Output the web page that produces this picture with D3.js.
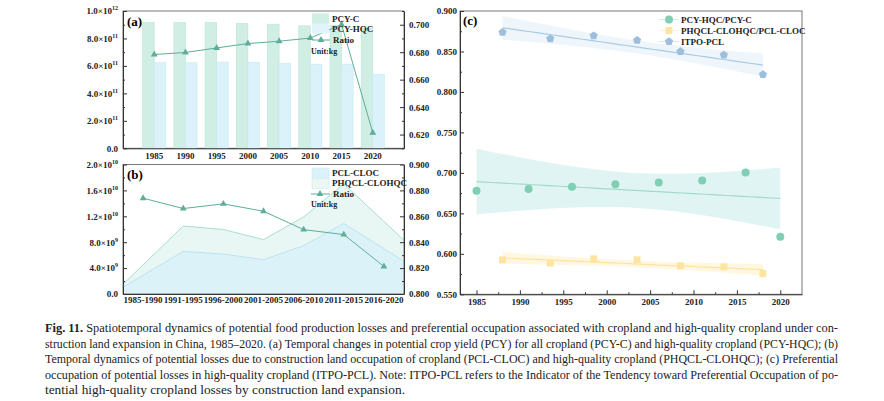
<!DOCTYPE html>
<html>
<head>
<meta charset="utf-8">
<script src="https://cdn.jsdelivr.net/npm/d3@7"></script>
<style>
  body { margin: 0; background: #fff; }
  svg text { font-family: "Liberation Serif", "Times New Roman", serif; }
</style>
</head>
<body>
<svg id="fig" width="884" height="401"></svg>
<script>
// (a) potential crop yield, kg
var yearsA = ["1985", "1990", "1995", "2000", "2005", "2010", "2015", "2020"];
var pcyC = [9.16e11, 9.16e11, 9.16e11, 9.09e11, 9.04e11, 8.92e11, 8.95e11, 8.73e11];
var pcyHqc = [6.23e11, 6.23e11, 6.28e11, 6.27e11, 6.2e11, 6.13e11, 6.13e11, 5.4e11];
var ratioA = [0.6783, 0.6798, 0.6831, 0.6863, 0.688, 0.6903, 0.7002, 0.6213];

// (b) potential losses by period, kg
var periodsB = ["1985-1990", "1991-1995", "1996-2000", "2001-2005", "2006-2010", "2011-2015", "2016-2020"];
var pclCloc = [2.9e9, 6.58e9, 6.17e9, 5.29e9, 7.47e9, 10.9e9, 7.0e9];
var phqclClohqc = [4.5e9, 10.5e9, 9.96e9, 8.4e9, 11.9e9, 17.0e9, 11.2e9];
var ratioB = [0.874, 0.866, 0.8696, 0.8639, 0.8497, 0.8459, 0.8213];

// (c) ratios over time
var yearsHqc = [1985, 1991, 1996, 2001, 2006, 2011, 2016, 2020];
var hqcRatio = [0.678, 0.68, 0.683, 0.686, 0.688, 0.6905, 0.7004, 0.621];
var yearsPcl = [1988, 1993.5, 1998.5, 2003.5, 2008.5, 2013.5, 2018];
var pclRatio = [0.5926, 0.5885, 0.5938, 0.5926, 0.5852, 0.584, 0.5757];
var itpoPcl = [0.8737, 0.8658, 0.8695, 0.8638, 0.8498, 0.8457, 0.8214];

var caption = [
  "Spatiotemporal dynamics of potential food production losses and preferential occupation associated with cropland and high-quality cropland under con-",
  "struction land expansion in China, 1985\u20132020. (a) Temporal changes in potential crop yield (PCY) for all cropland (PCY-C) and high-quality cropland (PCY-HQC); (b)",
  "Temporal dynamics of potential losses due to construction land occupation of cropland (PCL-CLOC) and high-quality cropland (PHQCL-CLOHQC); (c) Preferential",
  "occupation of potential losses in high-quality cropland (ITPO-PCL). Note: ITPO-PCL refers to the Indicator of the Tendency toward Preferential Occupation of po-",
  "tential high-quality cropland losses by construction land expansion."
];

var teal = "#5eae9a";
var svg = d3.select("#fig");

// ---------- helpers ----------
function styleAxis(g) {
  g.attr("font-family", "Liberation Serif").attr("font-size", 9).attr("font-weight", "bold");
  g.select(".domain").attr("stroke", "#333");
  g.selectAll(".tick line").attr("stroke", "#333");
  g.selectAll(".tick text").attr("fill", "#222");
}

function sciLabels(g) {
  g.selectAll(".tick text").each(function (d) {
    var t = d3.select(this).text("");
    if (d === 0) { t.text("0.0"); return; }
    var e = Math.floor(Math.log10(d) + 1e-9);
    t.append("tspan").text((d / Math.pow(10, e)).toFixed(1) + "\u00d710");
    t.append("tspan").attr("dy", -4).attr("font-size", 6).text(e);
  });
}

function minorTicks(axisFn, scale, values, x, y) {
  var g = svg.append("g").attr("transform", "translate(" + x + "," + y + ")")
    .call(axisFn(scale).tickValues(values).tickSizeInner(-2).tickSizeOuter(0).tickFormat(""));
  g.select(".domain").remove();
  g.selectAll(".tick line").attr("stroke", "#333");
}

function frame(x0, y0, x1, y1) {
  svg.append("rect").attr("x", x0).attr("y", y0).attr("width", x1 - x0).attr("height", y1 - y0)
    .attr("fill", "none").attr("stroke", "#777").attr("stroke-width", 1);
}

function legendText(x, y, s) {
  svg.append("text").attr("x", x).attr("y", y).attr("dy", "0.35em")
    .attr("font-size", 9).attr("font-weight", "bold").attr("fill", "#222").text(s);
}

function fit(xs, ys) {
  var n = xs.length, mx = d3.mean(xs), my = d3.mean(ys);
  var sxx = d3.sum(xs, function (x) { return (x - mx) * (x - mx); });
  var sxy = d3.sum(xs, function (x, i) { return (x - mx) * (ys[i] - my); });
  var b = sxy / sxx, a = my - b * mx;
  var sse = d3.sum(xs, function (x, i) { var r = ys[i] - a - b * x; return r * r; });
  var s = Math.sqrt(sse / (n - 2));
  var t = { 5: 2.571, 6: 2.447 }[n - 2];
  var pts = d3.range(0, 41).map(function (k) {
    var x = xs[0] + (xs[n - 1] - xs[0]) * k / 40;
    var yh = a + b * x;
    var h = t * s * Math.sqrt(1 / n + (x - mx) * (x - mx) / sxx);
    return { x: x, y: yh, lo: yh - h, hi: yh + h };
  });
  return pts;
}

var symbolPentagon = {
  draw: function (ctx, size) {
    var r = Math.sqrt(size / 2.378);
    for (var i = 0; i < 5; i++) {
      var ang = -Math.PI / 2 + i * 2 * Math.PI / 5;
      if (i) ctx.lineTo(r * Math.cos(ang), r * Math.sin(ang));
      else ctx.moveTo(r * Math.cos(ang), r * Math.sin(ang));
    }
    ctx.closePath();
  }
};
var tri = d3.symbol(d3.symbolTriangle).size(20);

// ---------- panel (a) ----------
var aL = 123, aR = 404, aT = 11, aB = 148.3;
var xA = d3.scaleBand().domain(yearsA).range([aL, aR]).paddingInner(0).paddingOuter(0.5);
var yA = d3.scaleLinear().domain([0, 1e12]).range([aB, aT]);
var yA2 = d3.scaleLinear().domain([0.61, 0.71]).range([aB, aT]);
var bw = xA.bandwidth() * 0.37;

frame(aL, aT, aR, aB);

svg.append("g").selectAll("rect").data(pcyC).enter().append("rect")
  .attr("x", function (d, i) { return xA(yearsA[i]) + xA.bandwidth() / 2 - bw; })
  .attr("y", function (d) { return yA(d); })
  .attr("width", bw).attr("height", function (d) { return aB - yA(d); })
  .attr("fill", "#d0eee3").attr("stroke", "#bae5d6").attr("stroke-width", 0.6);

svg.append("g").selectAll("rect").data(pcyHqc).enter().append("rect")
  .attr("x", function (d, i) { return xA(yearsA[i]) + xA.bandwidth() / 2; })
  .attr("y", function (d) { return yA(d); })
  .attr("width", bw).attr("height", function (d) { return aB - yA(d); })
  .attr("fill", "#dcf2fb").attr("stroke", "#c6e8f5").attr("stroke-width", 0.6);

var cxA = function (d, i) { return xA(yearsA[i]) + xA.bandwidth() / 2; };
svg.append("path").datum(ratioA)
  .attr("d", d3.line().x(cxA).y(function (d) { return yA2(d); }))
  .attr("fill", "none").attr("stroke", teal).attr("stroke-width", 1);
svg.append("g").selectAll("path").data(ratioA).enter().append("path")
  .attr("d", tri)
  .attr("transform", function (d, i) { return "translate(" + cxA(d, i) + "," + yA2(d) + ")"; })
  .attr("fill", teal);

var gAx = svg.append("g").attr("transform", "translate(0," + aB + ")")
  .call(d3.axisBottom(xA).tickSize(0).tickPadding(4));
styleAxis(gAx);
var gAy = svg.append("g").attr("transform", "translate(" + aL + ",0)")
  .call(d3.axisLeft(yA).tickValues(d3.range(0, 1.01e12, 2e11)).tickSizeInner(-4).tickSizeOuter(0).tickPadding(5));
styleAxis(gAy); sciLabels(gAy);
minorTicks(d3.axisLeft, yA, d3.range(1e11, 1e12, 2e11), aL, 0);
var gAy2 = svg.append("g").attr("transform", "translate(" + aR + ",0)")
  .call(d3.axisRight(yA2).tickValues([0.62, 0.64, 0.66, 0.68, 0.7]).tickSizeInner(-4).tickSizeOuter(0).tickPadding(5).tickFormat(d3.format(".3f")));
styleAxis(gAy2);
minorTicks(d3.axisRight, yA2, [0.61, 0.63, 0.65, 0.67, 0.69, 0.71], aR, 0);

svg.append("text").attr("x", 127).attr("y", 26).attr("font-size", 13).attr("font-weight", "bold").text("(a)");

svg.append("rect").attr("x", 312).attr("y", 13.3).attr("width", 17).attr("height", 10.5).attr("fill", "#d0eee3");
svg.append("rect").attr("x", 312).attr("y", 24).attr("width", 17).attr("height", 9.5).attr("fill", "#e2f4fb");
svg.append("line").attr("x1", 312).attr("x2", 330).attr("y1", 40).attr("y2", 40).attr("stroke", teal);
svg.append("path").attr("d", tri).attr("transform", "translate(321,40)").attr("fill", teal);
legendText(332, 18.5, "PCY-C");
legendText(332, 29, "PCY-HQC");
legendText(333, 40, "Ratio");
svg.append("text").attr("x", 311).attr("y", 51).attr("dy", "0.35em").attr("font-size", 8)
  .attr("font-weight", "bold").attr("fill", "#222").text("Unit:kg");

// ---------- panel (b) ----------
var bL = 123, bR = 404, bT = 164.5, bB = 294;
var xB = d3.scaleBand().domain(periodsB).range([bL, bR]);
var xBi = d3.scaleLinear().domain([-0.5, periodsB.length - 0.5]).range([bL, bR]);
var yB = d3.scaleLinear().domain([0, 2e10]).range([bB, bT]);
var yB2 = d3.scaleLinear().domain([0.8, 0.9]).range([bB, bT]);

function extendEnds(vals) {
  var n = vals.length;
  var pts = vals.map(function (v, i) { return { i: i, v: v }; });
  pts.unshift({ i: -0.5, v: vals[0] - (vals[1] - vals[0]) / 2 });
  pts.push({ i: n - 0.5, v: vals[n - 1] + (vals[n - 1] - vals[n - 2]) / 2 });
  return pts;
}
var areaB = d3.area().x(function (d) { return xBi(d.i); }).y0(bB).y1(function (d) { return yB(d.v); });
var lineB = d3.line().x(function (d) { return xBi(d.i); }).y(function (d) { return yB(d.v); });

svg.append("path").datum(extendEnds(phqclClohqc)).attr("d", areaB).attr("fill", "#e8f6f4");
svg.append("path").datum(extendEnds(phqclClohqc)).attr("d", lineB).attr("fill", "none").attr("stroke", "#a9ded2").attr("stroke-width", 1);
svg.append("path").datum(extendEnds(pclCloc)).attr("d", areaB).attr("fill", "#dcf2f9");
svg.append("path").datum(extendEnds(pclCloc)).attr("d", lineB).attr("fill", "none").attr("stroke", "#bce4f1").attr("stroke-width", 1);

frame(bL, bT, bR, bB);

svg.append("path").datum(ratioB)
  .attr("d", d3.line().x(function (d, i) { return xBi(i); }).y(function (d) { return yB2(d); }))
  .attr("fill", "none").attr("stroke", teal).attr("stroke-width", 1);
svg.append("g").selectAll("path").data(ratioB).enter().append("path")
  .attr("d", tri)
  .attr("transform", function (d, i) { return "translate(" + xBi(i) + "," + yB2(d) + ")"; })
  .attr("fill", teal);

var gBx = svg.append("g").attr("transform", "translate(0," + bB + ")")
  .call(d3.axisBottom(xB).tickSize(0).tickPadding(3));
styleAxis(gBx);
var gBy = svg.append("g").attr("transform", "translate(" + bL + ",0)")
  .call(d3.axisLeft(yB).tickValues(d3.range(0, 2.01e10, 4e9)).tickSizeInner(-4).tickSizeOuter(0).tickPadding(5));
styleAxis(gBy); sciLabels(gBy);
minorTicks(d3.axisLeft, yB, d3.range(2e9, 2e10, 4e9), bL, 0);
var gBy2 = svg.append("g").attr("transform", "translate(" + bR + ",0)")
  .call(d3.axisRight(yB2).tickValues([0.8, 0.82, 0.84, 0.86, 0.88, 0.9]).tickSizeInner(-4).tickSizeOuter(0).tickPadding(5).tickFormat(d3.format(".3f")));
styleAxis(gBy2);
minorTicks(d3.axisRight, yB2, [0.81, 0.83, 0.85, 0.87, 0.89], bR, 0);

svg.append("text").attr("x", 127).attr("y", 179).attr("font-size", 13).attr("font-weight", "bold").text("(b)");

svg.append("rect").attr("x", 312).attr("y", 168).attr("width", 17).attr("height", 10).attr("fill", "#dcf2fa").attr("stroke", "#cbeaf5").attr("stroke-width", 0.6);
svg.append("rect").attr("x", 312).attr("y", 178.5).attr("width", 17).attr("height", 10).attr("fill", "#eaf7f5").attr("stroke", "#cdece5").attr("stroke-width", 0.6);
svg.append("line").attr("x1", 311).attr("x2", 330).attr("y1", 194).attr("y2", 194).attr("stroke", teal);
svg.append("path").attr("d", tri).attr("transform", "translate(320,194)").attr("fill", teal);
legendText(332, 172.5, "PCL-CLOC");
legendText(332, 183.3, "PHQCL-CLOHQC");
legendText(333, 194, "Ratio");
svg.append("text").attr("x", 311).attr("y", 204.5).attr("dy", "0.35em").attr("font-size", 8)
  .attr("font-weight", "bold").attr("fill", "#222").text("Unit:kg");

// ---------- panel (c) ----------
var cL = 460, cR = 802, cT = 11, cB = 294.3;
var xC = d3.scaleLinear().domain([1983.1, 2022.5]).range([cL, cR]);
var yC = d3.scaleLinear().domain([0.55, 0.9]).range([cB, cT]);

var series = [
  { xs: yearsHqc, ys: hqcRatio, name: "PCY-HQC/PCY-C", fill: "#80cfb4", line: "#a3dacb", band: "#e0f5f3", sym: d3.symbolCircle, size: 50 },
  { xs: yearsPcl, ys: pclRatio, name: "PHQCL-CLOHQC/PCL-CLOC", fill: "#fde4a1", line: "#fde3a3", band: "#fff7e0", sym: d3.symbolSquare, size: 48 },
  { xs: yearsPcl, ys: itpoPcl, name: "ITPO-PCL", fill: "#9dbfdb", line: "#aacbe3", band: "#eef6fb", sym: symbolPentagon, size: 44 }
];

series.forEach(function (s) {
  var pts = fit(s.xs, s.ys);
  svg.append("path").datum(pts)
    .attr("d", d3.area().x(function (d) { return xC(d.x); }).y0(function (d) { return yC(d.lo); }).y1(function (d) { return yC(d.hi); }))
    .attr("fill", s.band);
  svg.append("path").datum(pts)
    .attr("d", d3.line().x(function (d) { return xC(d.x); }).y(function (d) { return yC(d.y); }))
    .attr("fill", "none").attr("stroke", s.line).attr("stroke-width", 1.2);
});

frame(cL, cT, cR, cB);

series.forEach(function (s) {
  svg.append("g").selectAll("path").data(s.ys).enter().append("path")
    .attr("d", d3.symbol(s.sym).size(s.size))
    .attr("transform", function (d, i) { return "translate(" + xC(s.xs[i]) + "," + yC(d) + ")"; })
    .attr("fill", s.fill);
});

var gCx = svg.append("g").attr("transform", "translate(0," + cB + ")")
  .call(d3.axisBottom(xC).tickValues(d3.range(1985, 2021, 5)).tickSizeInner(-4).tickSizeOuter(0).tickPadding(4).tickFormat(d3.format("d")));
styleAxis(gCx);
minorTicks(d3.axisBottom, xC, d3.range(1987.5, 2021, 5), 0, cB);
var gCy = svg.append("g").attr("transform", "translate(" + cL + ",0)")
  .call(d3.axisLeft(yC).tickValues(d3.range(0.55, 0.901, 0.05)).tickSizeInner(-4).tickSizeOuter(0).tickPadding(3).tickFormat(d3.format(".3f")));
styleAxis(gCy);
minorTicks(d3.axisLeft, yC, d3.range(0.575, 0.9, 0.05), cL, 0);

svg.append("text").attr("x", 463).attr("y", 25).attr("font-size", 13).attr("font-weight", "bold").text("(c)");

series.forEach(function (s, i) {
  var ly = 19.5 + i * 11;
  svg.append("line").attr("x1", 659).attr("x2", 679).attr("y1", ly).attr("y2", ly)
    .attr("stroke", s.line).attr("stroke-width", 0.8).attr("opacity", 0.6);
  svg.append("path").attr("d", d3.symbol(s.sym).size(s.size)).attr("transform", "translate(669," + ly + ")").attr("fill", s.fill);
  legendText(681, ly, s.name);
});

// ---------- caption ----------
var capWidths = [793, 793, 793, 793, 360];
caption.forEach(function (line, i) {
  var t = svg.append("text").attr("x", 45).attr("y", 332 + i * 15.5)
    .attr("font-size", 12).attr("fill", "#222")
    .attr("textLength", capWidths[i]).attr("lengthAdjust", "spacingAndGlyphs");
  if (i === 0) {
    t.append("tspan").attr("font-weight", "bold").text("Fig. 11. ");
  }
  t.append("tspan").text(line);
});
</script>
</body>
</html>
